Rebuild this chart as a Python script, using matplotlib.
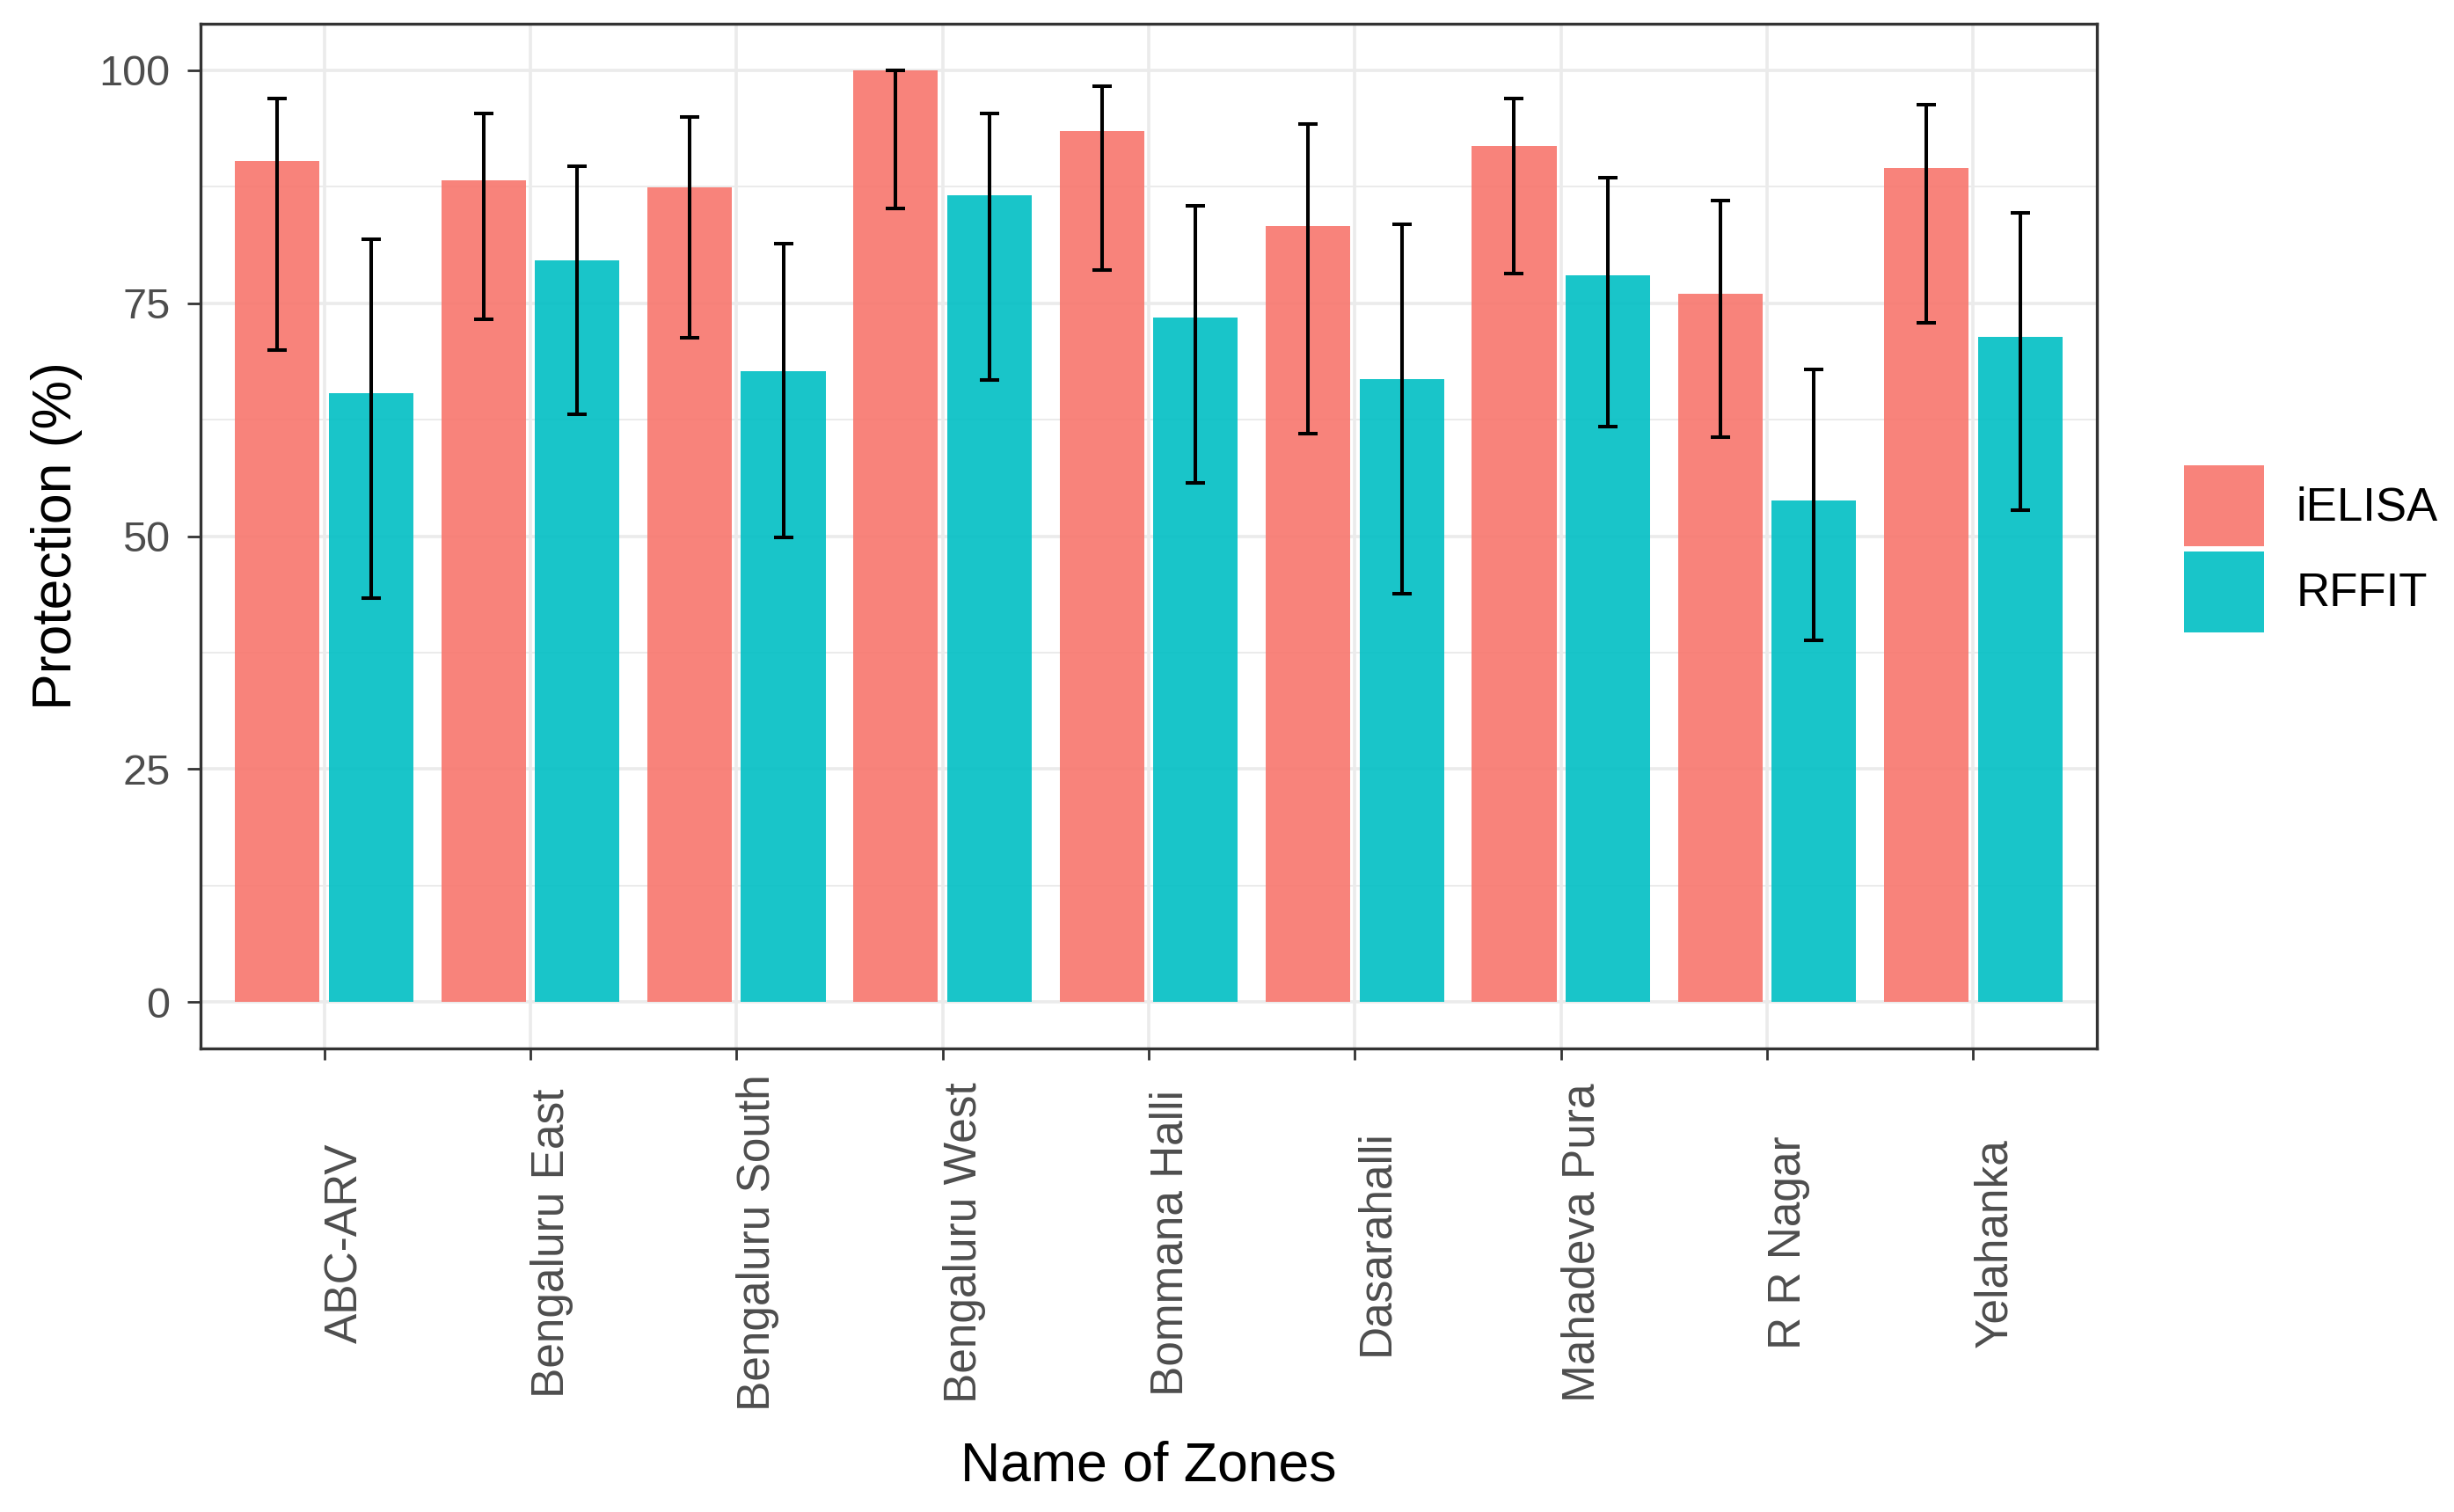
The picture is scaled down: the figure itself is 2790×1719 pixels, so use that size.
import numpy as np
import matplotlib.pyplot as plt
from matplotlib.patches import Patch
from matplotlib.ticker import MultipleLocator

plt.rcParams['font.family'] = ['Liberation Sans', 'DejaVu Sans']

# values
zones = ["ABC-ARV", "Bengaluru East", "Bengaluru South", "Bengaluru West",
         "Bommana Halli", "Dasarahalli", "Mahadeva Pura", "R R Nagar", "Yelahanka"]
ielisa = [90.3, 88.2, 87.4, 100.0, 93.5, 83.3, 91.9, 76.0, 89.5]
ielisa_lo = [70.0, 73.3, 71.3, 85.2, 78.6, 61.0, 78.2, 60.6, 72.9]
ielisa_hi = [97.0, 95.4, 95.0, 100.0, 98.3, 94.2, 97.0, 86.0, 96.3]
rffit = [65.3, 79.6, 67.7, 86.6, 73.5, 66.9, 78.0, 53.8, 71.4]
rffit_lo = [43.3, 63.1, 49.9, 66.8, 55.7, 43.8, 61.8, 38.8, 52.8]
rffit_hi = [81.9, 89.7, 81.4, 95.4, 85.5, 83.5, 88.5, 67.9, 84.7]

series = [("iELISA", ielisa, ielisa_lo, ielisa_hi, "#F8766D", -0.227),
          ("RFFIT", rffit, rffit_lo, rffit_hi, "#00BFC4", 0.227)]

W, H = 2790, 1719
fig = plt.figure(figsize=(W / 100, H / 100), dpi=100)
ax = fig.add_axes([228 / W, 1 - 1192 / H, (2384 - 228) / W, (1192 - 27) / H])

x = np.arange(len(zones))
for name, vals, lo, hi, col, off in series:
    vals = np.array(vals)
    ax.bar(x + off, vals, width=0.41, color=col, alpha=0.9, zorder=2, label=name)
    yerr = [vals - np.array(lo), np.array(hi) - vals]
    ax.errorbar(x + off, vals, yerr=yerr, fmt='none', ecolor='black',
                elinewidth=2.9, capsize=8, capthick=2.9, zorder=3)

ax.set_xlim(-0.6, len(zones) - 0.4)
ax.set_ylim(-5, 105)
ax.yaxis.set_major_locator(MultipleLocator(25))
ax.yaxis.set_minor_locator(MultipleLocator(12.5))
ax.set_xticks(x)
ax.set_xticklabels(zones, rotation=90, ha='left', va='center')

ax.grid(which='major', color='#EBEBEB', linewidth=2.6, zorder=0)
ax.grid(which='minor', axis='y', color='#EBEBEB', linewidth=1.4, zorder=0)
ax.set_axisbelow(True)

for s in ax.spines.values():
    s.set_color('#333333')
    s.set_linewidth(2.4)

ax.tick_params(axis='y', which='major', length=11, width=2, color='#333333',
               labelsize=35, labelcolor='#4D4D4D', pad=14)
ax.tick_params(axis='y', which='minor', length=0)
ax.tick_params(axis='x', length=9, width=2, color='#333333',
               labelsize=37, labelcolor='#4D4D4D', pad=150)

ax.text(-0.076, 0.5, "Protection (%)", transform=ax.transAxes, rotation=90,
        ha='center', va='center', fontsize=45, color='black')
fig.text(1306 / W, 1 - 1667 / H, "Name of Zones", ha='center', va='center',
         fontsize=45, color='black')

handles = [Patch(facecolor=c, alpha=0.9, edgecolor='none') for _, _, _, _, c, _ in series]
fig.legend(handles, [s[0] for s in series], loc='center left',
           bbox_to_anchor=(2483 / W, 1 - 624 / H), frameon=False, fontsize=38,
           handlelength=1.72, handleheight=2.3, labelspacing=0.12,
           handletextpad=0.7, borderpad=0, borderaxespad=0)

fig.savefig("out.png", dpi=100, facecolor='white')
